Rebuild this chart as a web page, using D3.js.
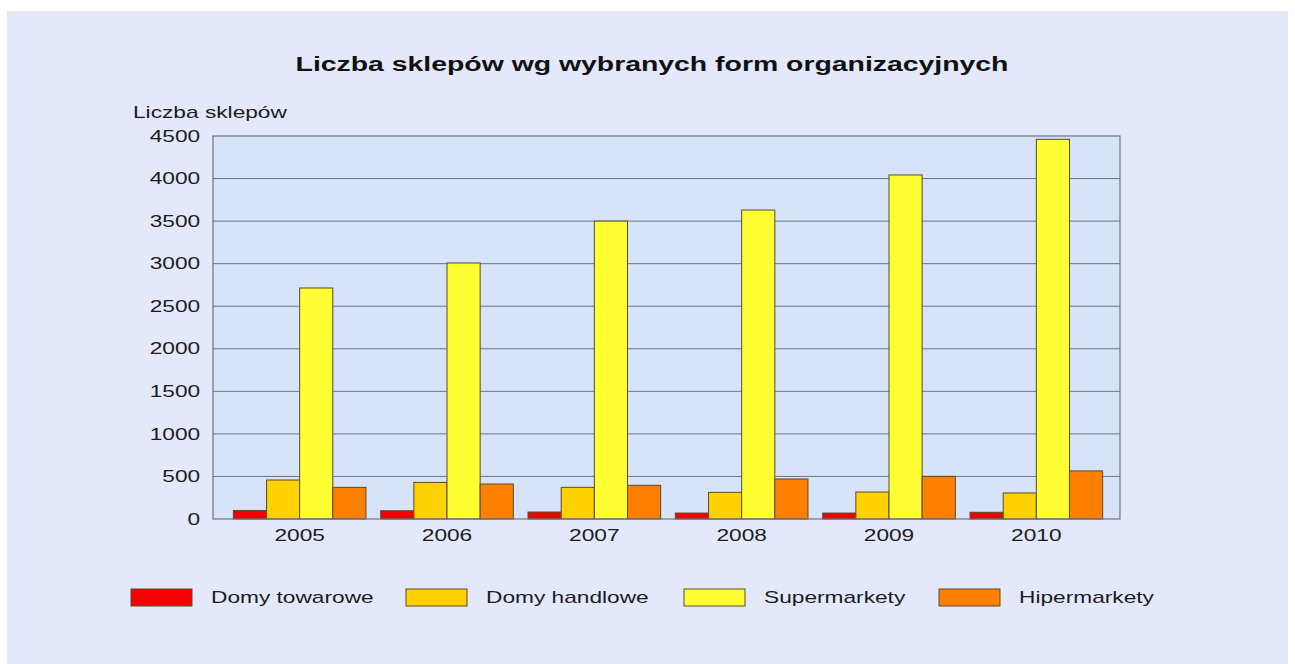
<!DOCTYPE html>
<html>
<head>
<meta charset="utf-8">
<script src="https://cdn.jsdelivr.net/npm/d3@7"></script>
<style>
  html, body { margin: 0; padding: 0; background: #fff; }
  svg { display: block; font-family: "Liberation Sans", Arial, sans-serif; }
</style>
</head>
<body>
<svg id="chart"></svg>
<script>
const years = ['2005', '2006', '2007', '2008', '2009', '2010']
const seriesNames = ['Domy towarowe', 'Domy handlowe', 'Supermarkety', 'Hipermarkety']
const domyTowarowe = [100, 97, 82, 70, 70, 79]
const domyHandlowe = [458, 430, 372, 313, 317, 306]
const supermarkety = [2714, 3008, 3500, 3630, 4042, 4461]
const hipermarkety = [372, 411, 396, 470, 501, 565]
const yTicks = [0, 500, 1000, 1500, 2000, 2500, 3000, 3500, 4000, 4500]

const colors = ['#f50000', '#fdd200', '#ffff33', '#ff8000']
const values = [domyTowarowe, domyHandlowe, supermarkety, hipermarkety]

const width = 1295
const height = 664
const plot = {left: 213, right: 1120, top: 136, bottom: 519}
// the original text is drawn noticeably wider than Arial
const stretch = 1.42
const textColor = '#1c1c1c'

const svg = d3.select('#chart')
  .attr('width', width)
  .attr('height', height)

svg.append('rect')
  .attr('x', 7).attr('y', 11)
  .attr('width', 1281).attr('height', 653)
  .attr('fill', '#e3e9fb')

svg.append('rect')
  .attr('x', plot.left).attr('y', plot.top)
  .attr('width', plot.right - plot.left).attr('height', plot.bottom - plot.top)
  .attr('fill', '#d7e3f9')

const y = d3.scaleLinear()
  .domain([0, 4500])
  .range([plot.bottom, plot.top])

const x0 = d3.scaleBand()
  .domain(years)
  .range([226, 1110])
  .paddingInner(0.1)
  .paddingOuter(0.05)

const x1 = d3.scaleBand()
  .domain(seriesNames)
  .range([0, x0.bandwidth()])

// gridlines
svg.append('g')
  .selectAll('line')
  .data(yTicks.slice(1, -1))
  .join('line')
  .attr('x1', plot.left).attr('x2', plot.right)
  .attr('y1', d => y(d)).attr('y2', d => y(d))
  .attr('stroke', '#6b7585')
  .attr('stroke-width', 1)

// bars
const groups = svg.append('g')
  .selectAll('g')
  .data(years)
  .join('g')
  .attr('transform', d => `translate(${x0(d)},0)`)

groups.selectAll('rect')
  .data((yr, i) => seriesNames.map((name, s) => ({name, s, value: values[s][i]})))
  .join('rect')
  .attr('x', d => x1(d.name))
  .attr('y', d => y(d.value))
  .attr('width', x1.bandwidth())
  .attr('height', d => plot.bottom - y(d.value))
  .attr('fill', d => colors[d.s])
  .attr('stroke', '#5a4a2a')
  .attr('stroke-width', 1)

// frame
svg.append('rect')
  .attr('x', plot.left).attr('y', plot.top)
  .attr('width', plot.right - plot.left).attr('height', plot.bottom - plot.top)
  .attr('fill', 'none')
  .attr('stroke', '#6b7585')
  .attr('stroke-width', 1.2)

// y axis labels
const yAxis = d3.axisLeft(y)
  .tickValues(yTicks)
  .tickFormat(d3.format('d'))
  .tickSize(0)
  .tickPadding(9)
svg.append('g')
  .attr('transform', `translate(${plot.left},0)`)
  .call(yAxis)
  .call(g => g.select('.domain').remove())
  .selectAll('text')
  .attr('font-size', 16)
  .attr('font-family', '"Liberation Sans", Arial, sans-serif')
  .attr('fill', textColor)
  .attr('transform', `scale(${stretch},1)`)

// x axis labels
const xAxis = d3.axisBottom(x0).tickSize(0).tickPadding(11)
svg.append('g')
  .attr('transform', `translate(0,${plot.bottom})`)
  .call(xAxis)
  .call(g => g.select('.domain').remove())
  .selectAll('text')
  .attr('font-size', 16)
  .attr('font-family', '"Liberation Sans", Arial, sans-serif')
  .attr('fill', textColor)
  .attr('transform', `scale(${stretch},1)`)

svg.append('text')
  .attr('transform', `translate(652,71) scale(${stretch},1)`)
  .attr('text-anchor', 'middle')
  .attr('font-size', 20)
  .attr('font-weight', 'bold')
  .attr('fill', '#111')
  .text('Liczba sklepów wg wybranych form organizacyjnych')

svg.append('text')
  .attr('transform', `translate(133,118) scale(${stretch},1)`)
  .attr('font-size', 16)
  .attr('fill', textColor)
  .text('Liczba sklepów')

// legend
const legendX = [131, 406, 684, 939]
const legend = svg.append('g')
  .selectAll('g')
  .data(seriesNames)
  .join('g')
  .attr('transform', (d, i) => `translate(${legendX[i]},589)`)

legend.append('rect')
  .attr('width', 61).attr('height', 17)
  .attr('fill', (d, i) => colors[i])
  .attr('stroke', '#5a4a2a')
  .attr('stroke-width', 1)

legend.append('text')
  .attr('transform', `translate(80,14) scale(${stretch},1)`)
  .attr('font-size', 16)
  .attr('fill', textColor)
  .text(d => d)
</script>
</body>
</html>
